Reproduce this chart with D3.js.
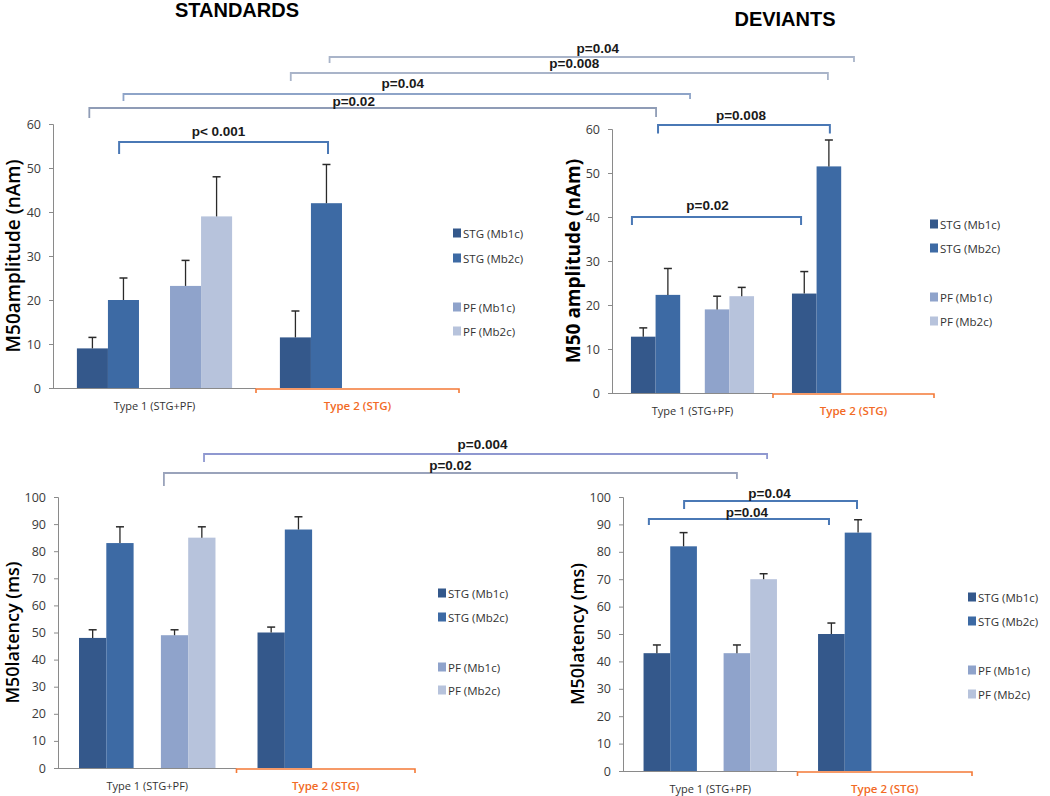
<!DOCTYPE html>
<html>
<head>
<script src="https://cdn.jsdelivr.net/npm/d3@7"></script>
<style>
    body { margin: 0; background: #fff; }
    svg { display: block; }
</style>
</head>
<body>
<svg id="chart" width="1050" height="796"></svg>
<script>
// ---- data ----
var categories = ["Type 1 (STG+PF)", "Type 2 (STG)"];
// excel-style slots: the empty one is the gap between STG and PF pairs
var slots = ["STG (Mb1c)", "STG (Mb2c)", "gap", "PF (Mb1c)", "PF (Mb2c)"];
var legendNames = ["STG (Mb1c)", "STG (Mb2c)", "PF (Mb1c)", "PF (Mb2c)"];
var seriesColors = ["#34588b", "#3d6aa4", "#8fa3cb", "#b7c3dc"];
var ampTicks = [0, 10, 20, 30, 40, 50, 60];
var latTicks = [0, 10, 20, 30, 40, 50, 60, 70, 80, 90, 100];

// values per series [Type 1, Type 2], null = no bar
var stdAmp    = [[9, 11.5], [20, 42], [23.2, null], [39, null]];
var stdAmpTop = [[11.5, 17.5], [25, 50.8], [29, null], [48, null]];
var devAmp    = [[12.8, 22.6], [22.3, 51.5], [19, null], [22, null]];
var devAmpTop = [[14.8, 27.6], [28.3, 57.5], [22, null], [24, null]];
var stdLat    = [[48, 50], [83, 88], [49, null], [85, null]];
var stdLatTop = [[51, 52], [89, 92.7], [51, null], [89, null]];
var devLat    = [[43, 50], [82, 87], [43, null], [70, null]];
var devLatTop = [[46, 54], [87, 91.7], [46, null], [72, null]];

// significance brackets: [panel, category, slot position]
var panelBrackets = [
    {panel: "TL", label: "p< 0.001", from: [0, 1.36], to: [1, 1.55], top: 55.9, foot: 53.2, dx: -5, dy: -6},
    {panel: "TR", label: "p=0.008", from: [0, 1.1], to: [1, 1.54], top: 60.9, foot: 59, dx: -3, dy: -5},
    {panel: "TR", label: "p=0.02", from: [0, 0.04], to: [1, 0.37], top: 40, foot: 38.2, dx: -9, dy: -7},
    {panel: "BR", label: "p=0.04", from: [0, 1.52], to: [1, 1.46], top: 98.5, foot: 95.6, dx: -1, dy: -3},
    {panel: "BR", label: "p=0.04", from: [0, 0.2], to: [1, 0.41], top: 92, foot: 89.8, dx: 8, dy: -2}
];
var crossBrackets = [
    {label: "p=0.04", from: ["TL", 1, 1.6], to: ["TR", 1, 2.52], level: 57, dropL: 6, dropR: 5, color: "#a9b4c9", dx: 6, dy: -4},
    {label: "p=0.008", from: ["TL", 1, 0.35], to: ["TR", 1, 1.46], level: 73, dropL: 8, dropR: 7, color: "#a9b4c9", dx: 15, dy: -5},
    {label: "p=0.04", from: ["TL", 0, 1.5], to: ["TR", 0, 2.4], level: 94, dropL: 7, dropR: 5, color: "#8ea4c8", dx: -4, dy: -6},
    {label: "p=0.02", from: ["TL", 0, 0.4], to: ["TR", 0, 1.02], level: 108, dropL: 10, dropR: 9, color: "#8f9cb6", dx: -19, dy: -2},
    {label: "p=0.004", from: ["BL", 0, 4.58], to: ["BR", 0, 4.63], level: 454, dropL: 8, dropR: 5, color: "#8f98d0", dx: -3, dy: -5},
    {label: "p=0.02", from: ["BL", 0, 3.11], to: ["BR", 0, 3.5], level: 473, dropL: 13, dropR: 6, color: "#9aa3bb", dx: 0, dy: -3}
];

// ---- layout ----
var panels = [
    {id: "TL", x0: 53, x1: 459, y0: 388, y1: 124, ticks: ampTicks, vals: stdAmp, tops: stdAmpTop,
     title: "M50amplitude (nAm)", tw: 600, tsize: 19, tx: 13, lx: 453, ly: [233, 258, 307, 331]},
    {id: "TR", x0: 612, x1: 934, y0: 393, y1: 129, ticks: ampTicks, vals: devAmp, tops: devAmpTop,
     title: "M50 amplitude (nAm)", tw: 700, tsize: 19, tx: 573, lx: 930, ly: [224, 248, 297, 321]},
    {id: "BL", x0: 58, x1: 415, y0: 768, y1: 497, ticks: latTicks, vals: stdLat, tops: stdLatTop,
     title: "M50latency (ms)", tw: 600, tsize: 18, tx: 12, lx: 438, ly: [593, 617, 667, 690]},
    {id: "BR", x0: 623, x1: 972, y0: 771, y1: 497, ticks: latTicks, vals: devLat, tops: devLatTop,
     title: "M50latency (ms)", tw: 600, tsize: 18, tx: 577, lx: 968, ly: [597, 621, 670, 694]}
];
var slotOf = [0, 1, 3, 4];

var svg = d3.select("#chart");
var lookup = {};

svg.append("text").attr("x", 237).attr("y", 17).attr("text-anchor", "middle")
    .style("font", "bold 20px 'Liberation Sans', Arial, sans-serif").text("STANDARDS");
svg.append("text").attr("x", 785).attr("y", 26).attr("text-anchor", "middle")
    .style("font", "bold 20px 'Liberation Sans', Arial, sans-serif").text("DEVIANTS");

panels.forEach(function(p) {
    var x = d3.scaleBand().domain(categories).range([p.x0, p.x1]);
    var xi = d3.scaleBand().domain(slots).range([0, x.bandwidth()]).paddingOuter(0.77);
    var y = d3.scaleLinear().domain([0, d3.max(p.ticks)]).range([p.y0, p.y1]);
    p.x = x; p.xi = xi; p.y = y;
    lookup[p.id] = p;

    var g = svg.append("g");

    // bars
    p.vals.forEach(function(v, s) {
        v.forEach(function(val, c) {
            if (val == null) return;
            var bx = x(categories[c]) + xi(slots[slotOf[s]]);
            g.append("rect")
                .attr("x", bx).attr("width", xi.bandwidth())
                .attr("y", y(val)).attr("height", y(0) - y(val))
                .attr("fill", seriesColors[s]);
            var cx = bx + xi.bandwidth() / 2;
            var t = p.tops[s][c];
            g.append("line").attr("x1", cx).attr("x2", cx).attr("y1", y(val)).attr("y2", y(t))
                .attr("stroke", "#2a2a2a").attr("stroke-width", 1.3);
            g.append("line").attr("x1", cx - 4).attr("x2", cx + 4).attr("y1", y(t)).attr("y2", y(t))
                .attr("stroke", "#2a2a2a").attr("stroke-width", 1.5);
        });
    });

    // y axis
    var ax = g.append("g").attr("transform", "translate(" + p.x0 + ",0)")
        .call(d3.axisLeft(y).tickValues(p.ticks).tickSize(4).tickPadding(8));
    ax.select(".domain").attr("stroke", "#8a8a8a");
    ax.selectAll(".tick line").attr("stroke", "#8a8a8a");
    ax.selectAll(".tick text").attr("fill", "#3a3a3a")
        .style("font", "12.5px 'Open Sans', sans-serif");

    // x axis: grey for type 1, orange bracket for type 2
    var mid = x(categories[1]);
    g.append("line").attr("x1", p.x0).attr("x2", mid).attr("y1", y(0) + 0.5).attr("y2", y(0) + 0.5)
        .attr("stroke", "#8a8a8a").attr("stroke-width", 1.2);
    g.append("path")
        .attr("d", "M" + mid + "," + (y(0) + 5) + "V" + (y(0) + 1) + "H" + p.x1 + "V" + (y(0) + 5))
        .attr("fill", "none").attr("stroke", "#f47a37").attr("stroke-width", 1.6);

    g.append("text").attr("x", x(categories[0]) + x.bandwidth() / 2).attr("y", y(0) + 22)
        .attr("text-anchor", "middle").attr("fill", "#333")
        .style("font", "11px 'Open Sans', sans-serif").text(categories[0]);
    g.append("text").attr("x", x(categories[1]) + x.bandwidth() / 2).attr("y", y(0) + 22)
        .attr("text-anchor", "middle").attr("fill", "#f26a25")
        .style("font", "600 11.5px 'Open Sans', sans-serif").text(categories[1]);

    // axis title
    var my = (p.y0 + p.y1) / 2;
    g.append("text").attr("transform", "translate(" + p.tx + "," + my + ") rotate(-90)")
        .attr("text-anchor", "middle").attr("dominant-baseline", "central").attr("fill", "#000")
        .style("font", p.tw + " " + p.tsize + "px 'Open Sans', sans-serif").text(p.title);

    // legend
    legendNames.forEach(function(n, i) {
        g.append("rect").attr("x", p.lx).attr("y", p.ly[i] - 4.5).attr("width", 8).attr("height", 9)
            .attr("fill", seriesColors[i]);
        g.append("text").attr("x", p.lx + 10).attr("y", p.ly[i]).attr("dominant-baseline", "central")
            .attr("fill", "#333").style("font", "11.5px 'Open Sans', sans-serif").text(n);
    });
});

function slotX(p, c, pos) {
    return p.x(categories[c]) + p.xi(slots[0]) + pos * p.xi.step();
}

function drawLabel(text, x, y, color) {
    svg.append("text").attr("x", x).attr("y", y).attr("text-anchor", "middle").attr("fill", color)
        .style("font", "bold 13.5px 'Liberation Sans', Arial, sans-serif").text(text);
}

panelBrackets.forEach(function(b) {
    var p = lookup[b.panel];
    var xa = slotX(p, b.from[0], b.from[1]), xb = slotX(p, b.to[0], b.to[1]);
    svg.append("path")
        .attr("d", "M" + xa + "," + p.y(b.foot) + "V" + p.y(b.top) + "H" + xb + "V" + p.y(b.foot))
        .attr("fill", "none").attr("stroke", "#4a78b5").attr("stroke-width", 2);
    drawLabel(b.label, (xa + xb) / 2 + b.dx, p.y(b.top) + b.dy, "#1a1a1a");
});

crossBrackets.forEach(function(b) {
    var xa = slotX(lookup[b.from[0]], b.from[1], b.from[2]);
    var xb = slotX(lookup[b.to[0]], b.to[1], b.to[2]);
    svg.append("path")
        .attr("d", "M" + xa + "," + (b.level + b.dropL) + "V" + b.level + "H" + xb + "V" + (b.level + b.dropR))
        .attr("fill", "none").attr("stroke", b.color).attr("stroke-width", 1.8);
    drawLabel(b.label, (xa + xb) / 2 + b.dx, b.level + b.dy, "#1a1a1a");
});
</script>
</body>
</html>
